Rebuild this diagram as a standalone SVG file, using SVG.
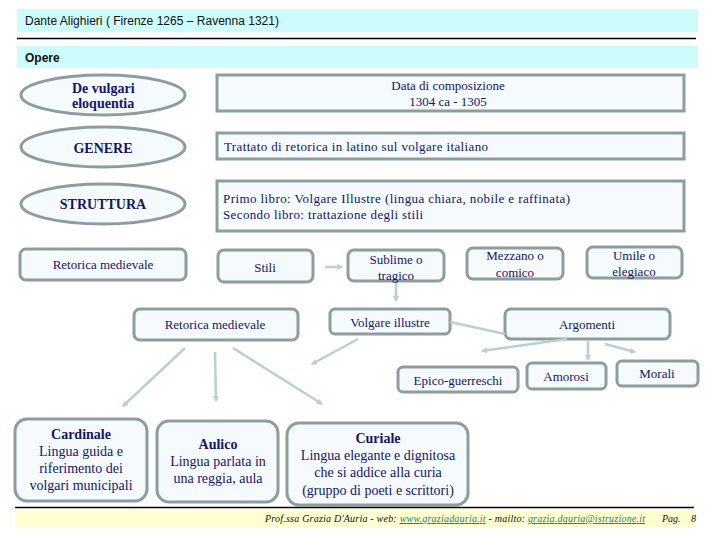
<svg xmlns="http://www.w3.org/2000/svg" width="720" height="540" viewBox="0 0 720 540">
<style>
.bar{fill:#ccfcfc}
.hd{font-family:"Liberation Sans",Arial,sans-serif;font-size:12px;fill:#111}
.hdb{font-family:"Liberation Sans",Arial,sans-serif;font-size:12px;font-weight:bold;fill:#111}
.box{fill:#f5fafc;stroke:#8d9d9d;stroke-width:3}
.t{font-family:"Liberation Serif","Times New Roman",serif;font-size:13px;fill:#14146e}
.tb{font-family:"Liberation Serif","Times New Roman",serif;font-size:14px;font-weight:bold;fill:#14146e}
.t14{font-family:"Liberation Serif","Times New Roman",serif;font-size:14px;fill:#14146e}
.tb14{font-family:"Liberation Serif","Times New Roman",serif;font-size:14px;font-weight:bold;fill:#14146e}
.c{text-anchor:middle}
.con{stroke:#b9d0d3;stroke-width:2.5;fill:none}
.ft{font-family:"Liberation Serif","Times New Roman",serif;font-size:10px;font-style:italic;fill:#111}
.lk{fill:#0a8a6a;text-decoration:underline}
</style>
<defs>
<marker id="ah" markerWidth="6" markerHeight="6" refX="5" refY="3" orient="auto" markerUnits="userSpaceOnUse">
<path d="M0,0 L6,3 L0,6 Z" fill="#b9d0d3"/>
</marker>
</defs>

<g id="header">
<rect class="bar" x="17" y="9" width="681" height="23"/>
<text class="hd" x="25" y="25" textLength="254">Dante Alighieri ( Firenze 1265 – Ravenna 1321)</text>
<line x1="17" y1="38.5" x2="696" y2="38.5" stroke="#000" stroke-width="1.5"/>
<rect class="bar" x="17" y="46" width="681" height="22"/>
<text class="hdb" x="25" y="62">Opere</text>
</g>

<g id="de-vulgari">
<ellipse class="box" cx="103" cy="95" rx="82" ry="20"/>
<text class="tb" x="72" y="93">De vulgari</text>
<text class="tb" x="72" y="108">eloquentia</text>
</g>
<g id="data">
<rect class="box" x="217" y="75" width="467" height="36"/>
<text class="t c" x="448" y="90">Data di composizione</text>
<text class="t c" x="448" y="106">1304 ca - 1305</text>
</g>

<g id="genere">
<ellipse class="box" cx="103" cy="147" rx="82" ry="20"/>
<text class="tb c" x="103" y="153">GENERE</text>
</g>
<g id="trattato">
<rect class="box" x="217" y="133" width="467" height="26"/>
<text class="t" x="224" y="151" textLength="264">Trattato di retorica in latino sul volgare italiano</text>
</g>

<g id="struttura">
<ellipse class="box" cx="103" cy="204" rx="82" ry="20"/>
<text class="tb c" x="103" y="209">STRUTTURA</text>
</g>
<g id="libri">
<rect class="box" x="217" y="181" width="467" height="50"/>
<text class="t" x="223" y="203" textLength="347">Primo libro: Volgare Illustre (lingua chiara, nobile e raffinata)</text>
<text class="t" x="223" y="219" textLength="200">Secondo libro: trattazione degli stili</text>
</g>

<g id="retorica1">
<rect class="box" x="20" y="249" width="166" height="31" rx="6"/>
<text class="t c" x="103" y="269">Retorica medievale</text>
</g>
<g id="stili">
<rect class="box" x="218" y="250" width="95" height="32" rx="6"/>
<text class="t c" x="265" y="272">Stili</text>
</g>
<g id="sublime">
<rect class="box" x="348" y="250" width="96" height="31" rx="6"/>
<text class="t c" x="396" y="264">Sublime o</text>
<text class="t c" x="396" y="280">tragico</text>
</g>
<g id="mezzano">
<rect class="box" x="467" y="248" width="96" height="31" rx="6"/>
<text class="t c" x="515" y="260">Mezzano o</text>
<text class="t c" x="515" y="277">comico</text>
</g>
<g id="umile">
<rect class="box" x="587" y="247" width="95" height="31" rx="6"/>
<text class="t c" x="634" y="260">Umile o</text>
<text class="t c" x="634" y="276">elegiaco</text>
</g>

<g id="retorica2">
<rect class="box" x="134" y="309" width="164" height="31" rx="6"/>
<text class="t c" x="215" y="329">Retorica medievale</text>
</g>
<g id="volgare">
<rect class="box" x="330" y="309" width="120" height="25" rx="5"/>
<text class="t c" x="390" y="327">Volgare illustre</text>
</g>
<g id="argomenti">
<rect class="box" x="505" y="309" width="165" height="30" rx="6"/>
<text class="t c" x="587" y="329">Argomenti</text>
</g>

<g id="epico">
<rect class="box" x="398" y="367" width="120" height="25" rx="5"/>
<text class="t c" x="458" y="385">Epico-guerreschi</text>
</g>
<g id="amorosi">
<rect class="box" x="527" y="363" width="79" height="26" rx="5"/>
<text class="t c" x="566" y="381">Amorosi</text>
</g>
<g id="morali">
<rect class="box" x="617" y="361" width="81" height="25" rx="5"/>
<text class="t c" x="657" y="378">Morali</text>
</g>

<g id="cardinale">
<rect class="box" x="15" y="419" width="132" height="82" rx="12"/>
<text class="tb14 c" x="81" y="439">Cardinale</text>
<text class="t14 c" x="81" y="456">Lingua guida e</text>
<text class="t14 c" x="81" y="473">riferimento dei</text>
<text class="t14 c" x="81" y="490">volgari municipali</text>
</g>
<g id="aulico">
<rect class="box" x="157" y="421" width="121" height="81" rx="12"/>
<text class="tb14 c" x="218" y="449">Aulico</text>
<text class="t14 c" x="218" y="466">Lingua parlata in</text>
<text class="t14 c" x="218" y="483">una reggia, aula</text>
</g>
<g id="curiale">
<rect class="box" x="287" y="423" width="181" height="82" rx="12"/>
<text class="tb14 c" x="378" y="443">Curiale</text>
<text class="t14 c" x="378" y="460">Lingua elegante e dignitosa</text>
<text class="t14 c" x="378" y="477">che si addice alla curia</text>
<text class="t14 c" x="378" y="495">(gruppo di poeti e scrittori)</text>
</g>

<g id="connectors">
<line class="con" x1="325" y1="267" x2="342" y2="267" marker-end="url(#ah)"/>
<line class="con" x1="396" y1="283" x2="396" y2="301" marker-end="url(#ah)"/>
<line class="con" x1="450" y1="322" x2="505" y2="334"/>
<line class="con" x1="358" y1="339" x2="312" y2="364" marker-end="url(#ah)"/>
<line class="con" x1="567" y1="339" x2="482" y2="351" marker-end="url(#ah)"/>
<line class="con" x1="588" y1="340" x2="588" y2="360" marker-end="url(#ah)"/>
<line class="con" x1="605" y1="344" x2="635" y2="352" marker-end="url(#ah)"/>
<line class="con" x1="185" y1="348" x2="123" y2="406" marker-end="url(#ah)"/>
<line class="con" x1="215" y1="352" x2="216" y2="401" marker-end="url(#ah)"/>
<line class="con" x1="233" y1="348" x2="322" y2="404" marker-end="url(#ah)"/>
</g>

<g id="footer">
<line x1="15" y1="507.5" x2="694" y2="507.5" stroke="#000" stroke-width="1.5"/>
<rect x="15" y="509" width="680" height="18" fill="#ffffd2"/>
<text class="ft" x="265" y="522" textLength="380">Prof.ssa Grazia D'Auria  -  web: <tspan class="lk">www.graziadauria.it</tspan> - mailto: <tspan class="lk">grazia.dauria@istruzione.it</tspan></text>
<text class="ft" x="662" y="522">Pag.</text>
<text class="ft" x="691" y="522" font-style="normal">8</text>
</g>
</svg>
